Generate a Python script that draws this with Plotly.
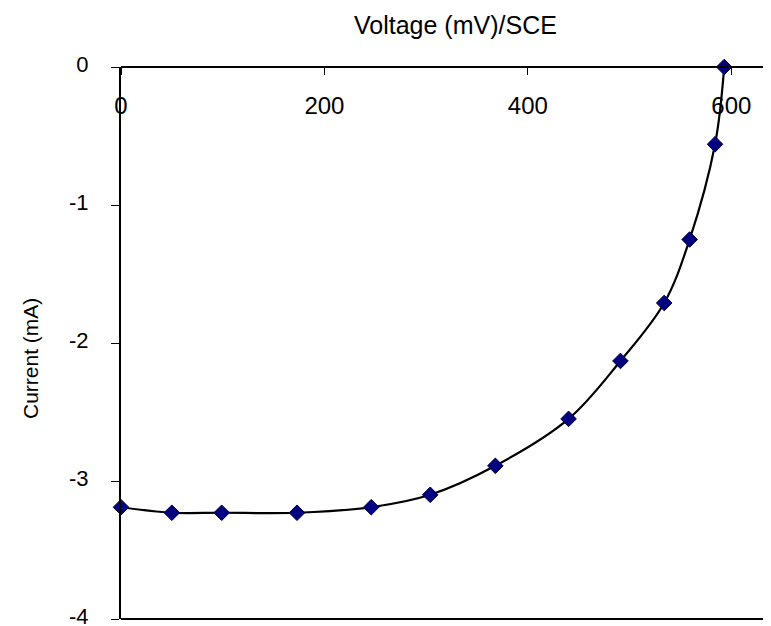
import plotly.graph_objects as go

voltage_mv = [0, 50, 99, 173, 246, 304, 368, 440, 491, 534, 559, 584, 593]
current_ma = [-3.19, -3.23, -3.23, -3.23, -3.19, -3.10, -2.89, -2.55, -2.13, -1.71, -1.25, -0.56, 0]

x_ticks = [0, 200, 400, 600]
y_ticks = [-4, -3, -2, -1, 0]
x_range = [0, 639]

FONT = "Liberation Sans, Arial, sans-serif"

# page body adds ~8px offset; compensate so the plot sits where the reference does
OFF = 8
W, H = 771 - OFF, 626 - OFF
L, T, B = 121 - OFF, 67 - OFF, 7
PW = W - L
PH = H - T - B

fig = go.Figure()
fig.add_trace(go.Scatter(
    x=voltage_mv, y=current_ma,
    mode="lines+markers",
    line=dict(color="black", width=2.2, shape="spline", smoothing=1.0),
    marker=dict(symbol="diamond", size=12, color="#000080",
                line=dict(color="#00003a", width=1)),
    showlegend=False,
    cliponaxis=False,
))

fig.update_layout(
    width=W, height=H,
    margin=dict(l=L, r=0, t=T, b=B, autoexpand=False),
    paper_bgcolor="white", plot_bgcolor="white",
    font=dict(family=FONT, color="black", size=22),
    xaxis=dict(
        range=x_range, side="bottom", anchor="free", position=1,
        tickvals=x_ticks, ticktext=[str(v) for v in x_ticks],
        ticks="outside", ticklen=7, tickwidth=1, tickcolor="black",
        ticklabelstandoff=10, ticklabeloverflow="allow", automargin=False,
        showline=True, linecolor="black", linewidth=2,
        showgrid=False, zeroline=False,
        tickfont=dict(size=24),
    ),
    yaxis=dict(
        range=[-4, 0],
        tickvals=y_ticks, ticktext=[str(v) for v in y_ticks],
        ticks="outside", ticklen=8, tickwidth=1, tickcolor="black",
        ticklabelstandoff=18, ticklabelshift=-3,
        ticklabeloverflow="allow", automargin=False,
        showline=True, linecolor="black", linewidth=2,
        showgrid=False, zeroline=False,
        tickfont=dict(size=22),
    ),
    shapes=[
        dict(type="line", xref="paper", yref="paper", x0=0, x1=1, y0=0, y1=0,
             line=dict(color="black", width=2), layer="above"),
    ],
    annotations=[
        dict(text="Voltage (mV)/SCE", xref="paper", yref="paper",
             x=(455 - 121) / PW, y=(619 - 25) / PH,
             xanchor="center", yanchor="middle", showarrow=False,
             font=dict(size=25)),
        dict(text="Current (mA)", xref="paper", yref="paper",
             x=(30 - 121) / PW, y=(619 - 358) / PH, textangle=-90,
             xanchor="center", yanchor="middle", showarrow=False,
             font=dict(size=21)),
    ],
)

fig.write_html("out.html")
